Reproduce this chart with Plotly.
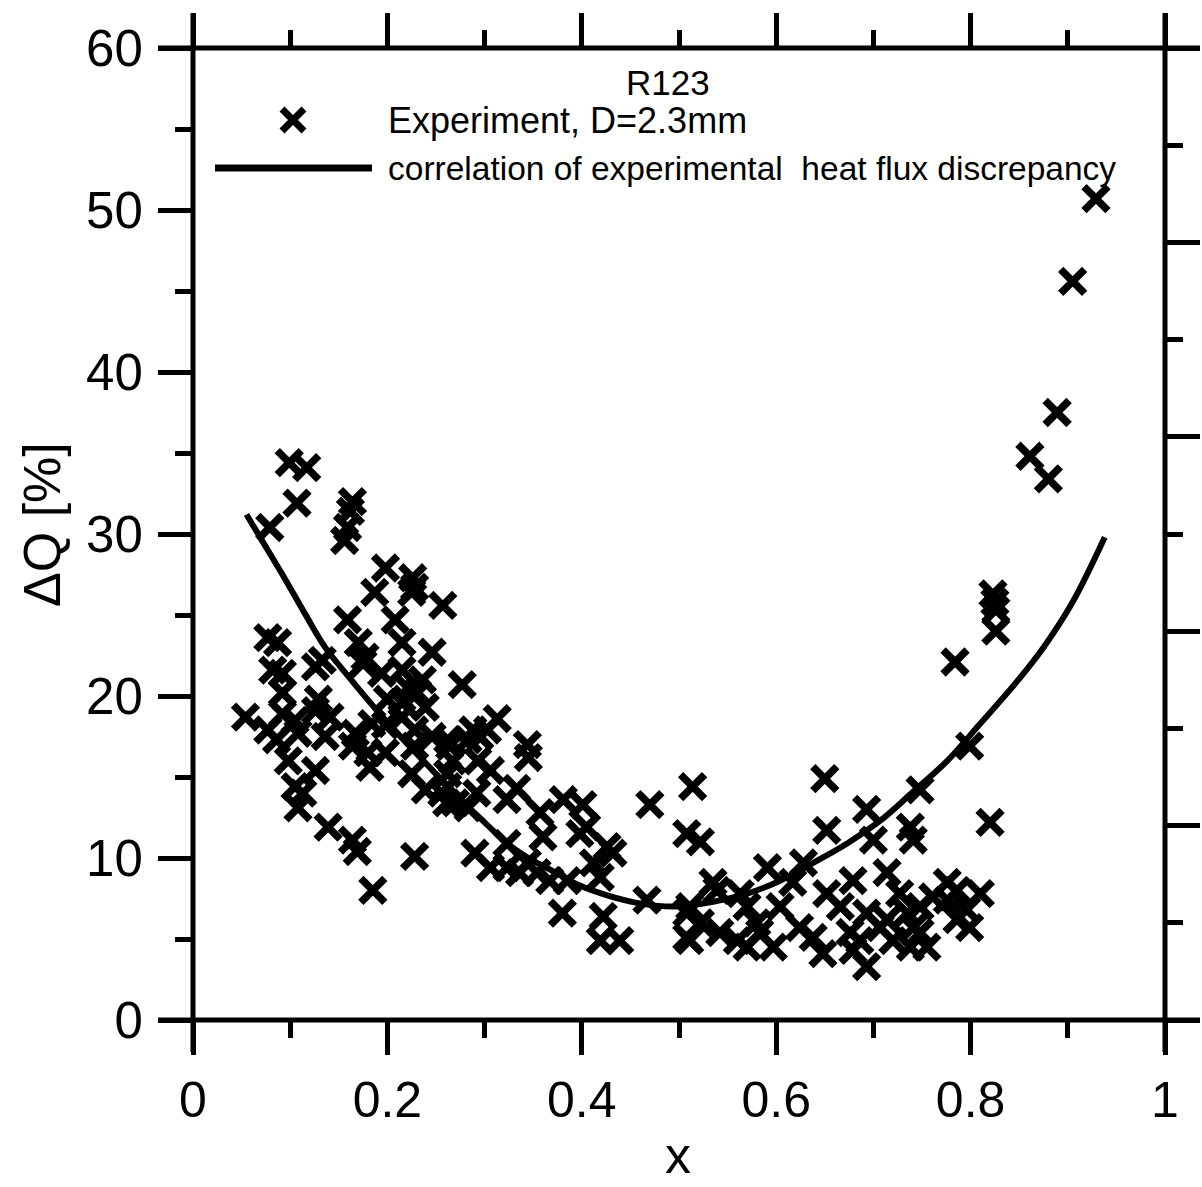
import plotly.graph_objects as go

# Experimental heat-flux discrepancy for R123, D = 2.3 mm
x_exp = [
    0.099, 0.117, 0.107, 0.079, 0.164, 0.162, 0.159, 0.156, 0.198, 0.226,
    0.228, 0.225, 0.257, 0.187, 0.159, 0.208, 0.215, 0.246, 0.077, 0.087,
    0.170, 0.133, 0.126, 0.175, 0.092, 0.277, 0.221, 0.231, 0.092, 0.215,
    0.239, 0.126, 0.054, 0.141, 0.092, 0.184, 0.198, 0.086, 0.136, 0.164,
    0.180, 0.198, 0.228, 0.246, 0.262, 0.283, 0.098, 0.182, 0.105, 0.113,
    0.239, 0.256, 0.270, 0.283, 0.139, 0.164, 0.169, 0.228, 0.290, 0.185,
    0.108, 0.082, 0.105, 0.077, 0.108, 0.129, 0.126, 0.167, 0.177, 0.194,
    0.215, 0.236, 0.200, 0.215, 0.228, 0.225, 0.262,
    0.313, 0.303, 0.288, 0.344, 0.345, 0.264, 0.293, 0.306, 0.262, 0.292,
    0.333, 0.323, 0.381, 0.401, 0.470, 0.514, 0.508, 0.522, 0.261, 0.357,
    0.360, 0.405, 0.426, 0.432, 0.323, 0.323, 0.336, 0.354, 0.367, 0.385,
    0.412, 0.419, 0.467, 0.508, 0.380, 0.422, 0.419, 0.439, 0.508,
    0.295, 0.267, 0.398, 0.344, 0.306,
    0.650, 0.799, 0.748, 0.693, 0.820, 0.652, 0.700, 0.738, 0.741, 0.591,
    0.628, 0.679, 0.714, 0.776, 0.810, 0.796, 0.786, 0.799, 0.539, 0.511,
    0.563, 0.570, 0.604, 0.617, 0.652, 0.666, 0.693, 0.727, 0.741, 0.748,
    0.511, 0.542, 0.570, 0.583, 0.597, 0.624, 0.638, 0.648, 0.676, 0.679,
    0.693, 0.707, 0.720, 0.738, 0.748, 0.761,
    0.535, 0.522, 0.580, 0.714, 0.735, 0.786, 0.776, 0.686, 0.755, 0.560,
    0.929, 0.905, 0.889, 0.861, 0.880, 0.823, 0.825, 0.826, 0.826, 0.784,
]
dq_exp = [
    34.4, 34.1, 31.9, 30.4, 32.0, 31.4, 30.4, 29.6, 27.9, 27.3,
    26.7, 26.4, 25.6, 26.4, 24.7, 24.7, 23.3, 22.7, 23.6, 23.3,
    23.3, 22.2, 21.8, 22.0, 21.4, 20.7, 20.5, 20.2, 20.2, 19.6,
    19.3, 19.1, 18.7, 18.7, 18.9, 18.3, 18.2, 17.3, 17.5, 16.9,
    16.5, 16.5, 16.9, 17.5, 17.3, 17.3, 16.0, 15.6, 14.4, 14.0,
    14.2, 14.0, 13.4, 13.1, 11.9, 11.1, 10.4, 10.1, 10.3, 8.0,
    13.1, 21.6, 18.5, 17.9, 17.7, 19.8, 15.4, 17.7, 22.4, 21.4,
    21.6, 21.0, 19.8, 18.7, 17.9, 15.2, 15.2,
    18.6, 17.9, 17.9, 17.0, 16.2, 16.9, 16.0, 15.4, 14.4, 14.0,
    14.3, 13.6, 13.6, 13.3, 13.3, 14.4, 11.5, 11.0, 13.4, 12.8,
    11.3, 11.9, 10.7, 10.3, 10.9, 9.4, 9.1, 9.1, 8.6, 8.6,
    9.7, 8.8, 7.4, 6.6, 6.6, 6.4, 4.9, 4.9, 5.1,
    17.5, 16.0, 11.5, 9.7, 9.4,
    14.9, 16.9, 14.2, 13.0, 12.2, 11.7, 11.1, 11.9, 11.1, 9.4,
    9.7, 8.6, 9.1, 8.5, 7.8, 6.8, 6.2, 5.7, 8.0, 7.0,
    7.8, 7.0, 7.0, 8.5, 7.8, 7.0, 6.6, 7.8, 5.7, 7.0,
    4.9, 5.4, 4.5, 5.4, 4.5, 5.7, 5.1, 4.1, 5.4, 4.3,
    3.3, 5.7, 4.9, 4.5, 5.4, 7.6,
    8.5, 6.0, 6.0, 6.2, 6.6, 8.0, 7.4, 4.9, 4.5, 4.9,
    50.7, 45.6, 37.5, 34.8, 33.4, 26.3, 25.8, 25.3, 24.0, 22.1,
]

# Correlation curve of the discrepancy
curve_x = [0.055, 0.070, 0.092, 0.115, 0.136, 0.160, 0.185, 0.215, 0.245, 0.275,
           0.300, 0.323, 0.345, 0.367, 0.398, 0.426, 0.460, 0.495, 0.535, 0.570,
           0.604, 0.638, 0.673, 0.707, 0.741, 0.776, 0.810, 0.845, 0.875, 0.905,
           0.938]
curve_dq = [31.2, 29.7, 27.5, 25.1, 23.0, 21.2, 19.4, 17.4, 15.5, 13.6,
            12.2, 10.9, 10.0, 9.3, 8.3, 7.7, 7.2, 7.0, 7.3, 7.8,
            8.6, 9.7, 10.9, 12.3, 14.1, 16.0, 18.3, 20.7, 23.0, 25.8,
            29.8]

title_text = "R123"
legend_labels = ["Experiment, D=2.3mm",
                 "correlation of experimental\u00a0 heat flux discrepancy"]

FONT = "Liberation Sans, Arial, sans-serif"
W, H = 1202, 1187
ML, MR, MT, MB = 193, 37, 48, 167
PW = W - ML - MR
PH = H - MT - MB


def fx(p):
    """pixel column -> paper x"""
    return (p - ML) / PW


def fy(p):
    """pixel row -> paper y"""
    return (H - MB - p) / PH


fig = go.Figure()

fig.add_trace(go.Scatter(
    x=x_exp, y=dq_exp, mode="markers",
    marker=dict(symbol="x-thin", size=24, color="black",
                line=dict(width=7.5, color="black")),
    showlegend=False, cliponaxis=False,
))

fig.add_trace(go.Scatter(
    x=curve_x, y=curve_dq, mode="lines",
    line=dict(color="black", width=6, shape="spline", smoothing=1.0),
    showlegend=False,
))

# empty trace so the right-hand tick axis gets drawn
fig.add_trace(go.Scatter(x=[], y=[], yaxis="y2", showlegend=False))

tick_common = dict(ticks="outside", ticklen=34, tickwidth=5, tickcolor="black",
                   showgrid=False, zeroline=False, showline=False,
                   automargin=False)

fig.update_layout(
    width=W, height=H, autosize=False,
    margin=dict(l=ML, r=MR, t=MT, b=MB, pad=0, autoexpand=False),
    paper_bgcolor="white", plot_bgcolor="white",
    font=dict(family=FONT, color="black"),
    xaxis=dict(range=[0, 1], tick0=0, dtick=0.2, mirror="ticks",
               tickfont=dict(size=50, family=FONT), ticklabelstandoff=2,
               minor=dict(dtick=0.1, tick0=0, ticks="outside", ticklen=17,
                          tickwidth=5, tickcolor="black"),
               **tick_common),
    yaxis=dict(range=[0, 60], tick0=0, dtick=10,
               tickfont=dict(size=51, family=FONT), ticklabelstandoff=5,
               minor=dict(dtick=5, tick0=0, ticks="outside", ticklen=17,
                          tickwidth=5, tickcolor="black"),
               **tick_common),
    yaxis2=dict(range=[0, 60], overlaying="y", side="right", tick0=0, dtick=12,
                showticklabels=False,
                minor=dict(dtick=6, tick0=0, ticks="outside", ticklen=17,
                           tickwidth=5, tickcolor="black"),
                **tick_common),
)

# frame lines that run past the corners
frame = dict(type="line", xref="paper", yref="paper", layer="above",
             line=dict(color="black", width=5))
fig.add_shape(x0=fx(158), x1=fx(1200), y0=0, y1=0, **frame)
fig.add_shape(x0=fx(158), x1=fx(1200), y0=1, y1=1, **frame)
fig.add_shape(x0=0, x1=0, y0=fy(1052), y1=fy(13), **frame)
fig.add_shape(x0=1, x1=1, y0=fy(1052), y1=fy(13), **frame)

# legend keys
fig.add_shape(type="line", xref="paper", yref="paper",
              x0=fx(215), x1=fx(372), y0=fy(168), y1=fy(168),
              line=dict(color="black", width=7))
cx, cy, hw = 293, 120, 11
fig.add_shape(type="path", xref="paper", yref="paper",
              path=(f"M{fx(cx - hw)},{fy(cy - hw)} L{fx(cx + hw)},{fy(cy + hw)} "
                    f"M{fx(cx - hw)},{fy(cy + hw)} L{fx(cx + hw)},{fy(cy - hw)}"),
              line=dict(color="black", width=7))

fig.add_annotation(x=fx(668), y=fy(82), xref="paper", yref="paper",
                   text=title_text, showarrow=False, xanchor="center",
                   yanchor="middle", font=dict(size=35, family=FONT))
fig.add_annotation(x=fx(386), y=fy(120), xref="paper", yref="paper",
                   text=legend_labels[0], showarrow=False, xanchor="left",
                   yanchor="middle", font=dict(size=36, family=FONT))
fig.add_annotation(x=fx(386), y=fy(168), xref="paper", yref="paper",
                   text=legend_labels[1], showarrow=False, xanchor="left",
                   yanchor="middle", font=dict(size=33.5, family=FONT))

# axis titles
fig.add_annotation(x=fx(678), y=fy(1186), xref="paper", yref="paper",
                   text="x", showarrow=False, xanchor="center", yanchor="bottom",
                   font=dict(size=52, family=FONT))
fig.add_annotation(x=fx(42), y=fy(525), xref="paper", yref="paper",
                   text="ΔQ [%]", showarrow=False, textangle=-90,
                   xanchor="center", yanchor="middle",
                   font=dict(size=52, family=FONT))

fig.write_html("out.html")
